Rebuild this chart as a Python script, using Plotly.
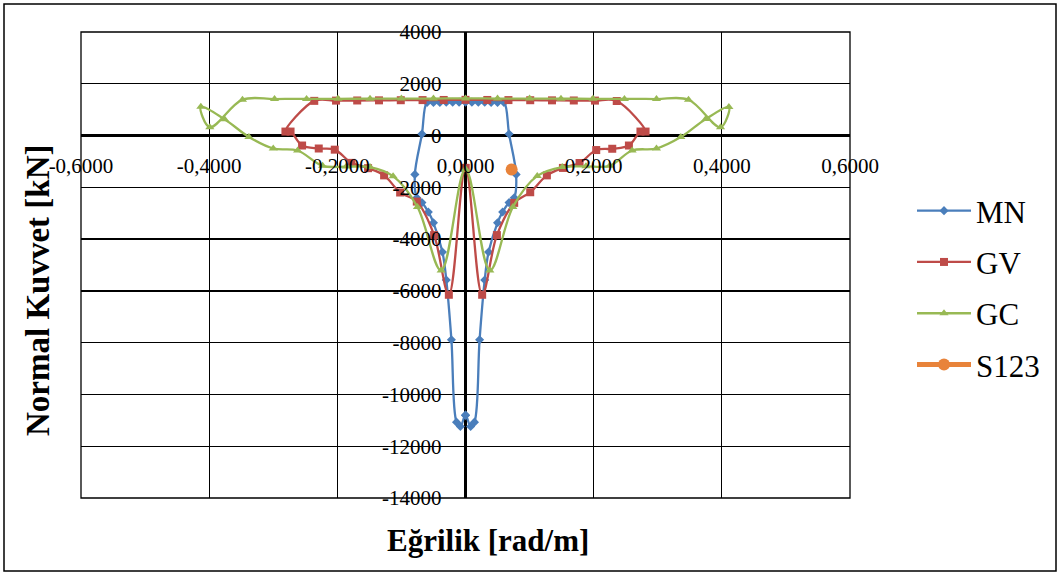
import plotly.graph_objects as go

# ---------------- data ----------------
MN_x = [0.000, 0.008, 0.014, 0.022, 0.030, 0.036, 0.050, 0.058, 0.068, 0.076, 0.079, 0.068,
        0.060, 0.050, 0.040, 0.030, 0.020, 0.010, 0.000, -0.010, -0.020, -0.030, -0.040, -0.050, -0.060,
        -0.068, -0.079, -0.076, -0.068, -0.058, -0.050, -0.036, -0.030, -0.022, -0.014, -0.008, 0.000]
MN_y = [-10800, -11240, -11070, -7885, -5577, -4500, -3370, -2950, -2590, -2400, -1500, 60,
        1280, 1280, 1280, 1285, 1285, 1290, 1290, 1290, 1285, 1285, 1280, 1280, 1280,
        60, -1500, -2400, -2590, -2950, -3370, -4500, -5577, -7885, -11070, -11240, -10800]

GV_x = [0.000, 0.026, 0.049, 0.076, 0.101, 0.127, 0.152, 0.178, 0.204, 0.229, 0.255, 0.273, 0.281,
        0.236, 0.202, 0.169, 0.135, 0.101, 0.067, 0.034, 0.000, -0.034, -0.067, -0.101, -0.135, -0.169, -0.202,
        -0.236, -0.281, -0.273, -0.255, -0.229, -0.204, -0.178, -0.152, -0.127, -0.102, -0.076, -0.049, -0.026, 0.000]
GV_y = [-1250, -6150, -3846, -2600, -2190, -1538, -1250, -1060, -560, -510, -385, 154, 154,
        1335, 1350, 1355, 1360, 1365, 1370, 1375, 1380, 1375, 1370, 1365, 1360, 1355, 1350,
        1340, 154, 154, -385, -500, -545, -1055, -1260, -1538, -2200, -2550, -3846, -6150, -1250]

GC_x = [0.000, 0.038, 0.074, 0.112, 0.151, 0.188, 0.225, 0.260, 0.298, 0.336, 0.375, 0.411, 0.398,
        0.348, 0.298, 0.248, 0.199, 0.149, 0.100, 0.050, 0.000, -0.050, -0.100, -0.149, -0.199, -0.248, -0.298,
        -0.348, -0.399, -0.413, -0.376, -0.338, -0.300, -0.262, -0.223, -0.186, -0.149, -0.113, -0.075, -0.038, 0.000]
GC_y = [-1300, -5210, -2757, -1560, -1218, -1190, -1165, -577, -500, -60, 640, 1100, 320,
        1385, 1410, 1415, 1420, 1425, 1430, 1430, 1435, 1430, 1430, 1425, 1420, 1415, 1410,
        1385, 320, 1110, 630, -55, -500, -577, -1170, -1200, -1218, -1570, -2757, -5210, -1300]

S123_x = [0.072]
S123_y = [-1310]

X_TICKS = [-0.6, -0.4, -0.2, 0.0, 0.2, 0.4, 0.6]
X_LABELS = ["-0,6000", "-0,4000", "-0,2000", "0,0000", "0,2000", "0,4000", "0,6000"]
Y_TICKS = [-14000, -12000, -10000, -8000, -6000, -4000, -2000, 0, 2000, 4000]
Y_LABELS = ["-14000", "-12000", "-10000", "-8000", "-6000", "-4000", "-2000", "0", "2000", "4000"]

X_RANGE = [-0.6, 0.6]
Y_RANGE = [-14000, 4000]

# ---------------- layout constants ----------------
W, H = 1061, 576
ML, MR, MT, MB = 81, 211, 32, 78
PW, PH = W - ML - MR, H - MT - MB
FONT = "Liberation Serif"


def px_to_paper_x(px):
    return (px - ML) / PW


def px_to_paper_y(py):
    return (H - MB - py) / PH


fig = go.Figure()

series = [
    ("MN", MN_x, MN_y, "#4A7EBB", "diamond", 7, 2.3),
    ("GV", GV_x, GV_y, "#BE4B48", "square", 8, 2.3),
    ("GC", GC_x, GC_y, "#98B954", "triangle-up", 8, 2.3),
]
for name, xs, ys, col, sym, ms, lw in series:
    fig.add_trace(go.Scatter(
        x=xs, y=ys, name=name, mode="lines+markers",
        line=dict(color=col, width=lw, shape="spline", smoothing=1.0),
        marker=dict(symbol=sym, size=ms, color=col),
        legendgroup=name,
    ))

fig.add_trace(go.Scatter(
    x=S123_x, y=S123_y, name="S123", mode="lines+markers",
    line=dict(color="#E8833A", width=5),
    marker=dict(symbol="circle", size=12, color="#E8833A"),
    legendgroup="S123",
))

# axis position where the other axis' zero lies
y_zero_frac = (0 - Y_RANGE[0]) / (Y_RANGE[1] - Y_RANGE[0])
x_zero_frac = (0 - X_RANGE[0]) / (X_RANGE[1] - X_RANGE[0])

fig.update_layout(
    width=W, height=H,
    margin=dict(l=ML, r=MR, t=MT, b=MB, pad=0),
    paper_bgcolor="white", plot_bgcolor="white",
    separators=", ",
    font=dict(family=FONT, color="black"),
    showlegend=True,
    hovermode=False,
    legend=dict(
        x=px_to_paper_x(912), y=px_to_paper_y(288), xanchor="left", yanchor="middle",
        font=dict(family=FONT, size=31, color="black"),
        itemwidth=54, tracegroupgap=8, traceorder="grouped",
        bgcolor="rgba(0,0,0,0)",
    ),
    xaxis=dict(
        range=X_RANGE, tickvals=X_TICKS, ticktext=X_LABELS,
        showgrid=True, gridcolor="black", gridwidth=1.3,
        zeroline=True, zerolinecolor="black", zerolinewidth=3,
        showline=False, ticks="",
        anchor="free", position=y_zero_frac,
        ticklabelstandoff=15,
        tickfont=dict(family=FONT, size=21, color="black"),
    ),
    yaxis=dict(
        range=Y_RANGE, tickvals=Y_TICKS, ticktext=Y_LABELS,
        showgrid=True, gridcolor="black", gridwidth=1.3,
        zeroline=True, zerolinecolor="black", zerolinewidth=3,
        showline=False, ticks="",
        anchor="free", position=x_zero_frac,
        ticklabelstandoff=24,
        tickfont=dict(family=FONT, size=21, color="black"),
    ),
    annotations=[
        dict(text="Eğrilik [rad/m]", xref="paper", yref="paper",
             x=px_to_paper_x(488), y=px_to_paper_y(540), xanchor="center", yanchor="middle",
             showarrow=False, font=dict(family=FONT, size=31, color="black", weight="bold")),
        dict(text="Normal Kuvvet [kN]", xref="paper", yref="paper", textangle=-90,
             x=px_to_paper_x(38), y=px_to_paper_y(291), xanchor="center", yanchor="middle",
             showarrow=False, font=dict(family=FONT, size=33, color="black", weight="bold")),
    ],
    shapes=[
        dict(type="rect", xref="paper", yref="paper", x0=0, x1=1, y0=0, y1=1,
             line=dict(color="black", width=1.3), layer="below"),
        dict(type="rect", xref="paper", yref="paper",
             x0=px_to_paper_x(4), x1=px_to_paper_x(1056),
             y0=px_to_paper_y(571), y1=px_to_paper_y(4),
             line=dict(color="black", width=1.5)),
    ],
)

fig.write_html(
    "out.html",
    config={"displayModeBar": False, "staticPlot": True},
    post_script="document.body.style.margin='0';document.body.style.padding='0';",
)
